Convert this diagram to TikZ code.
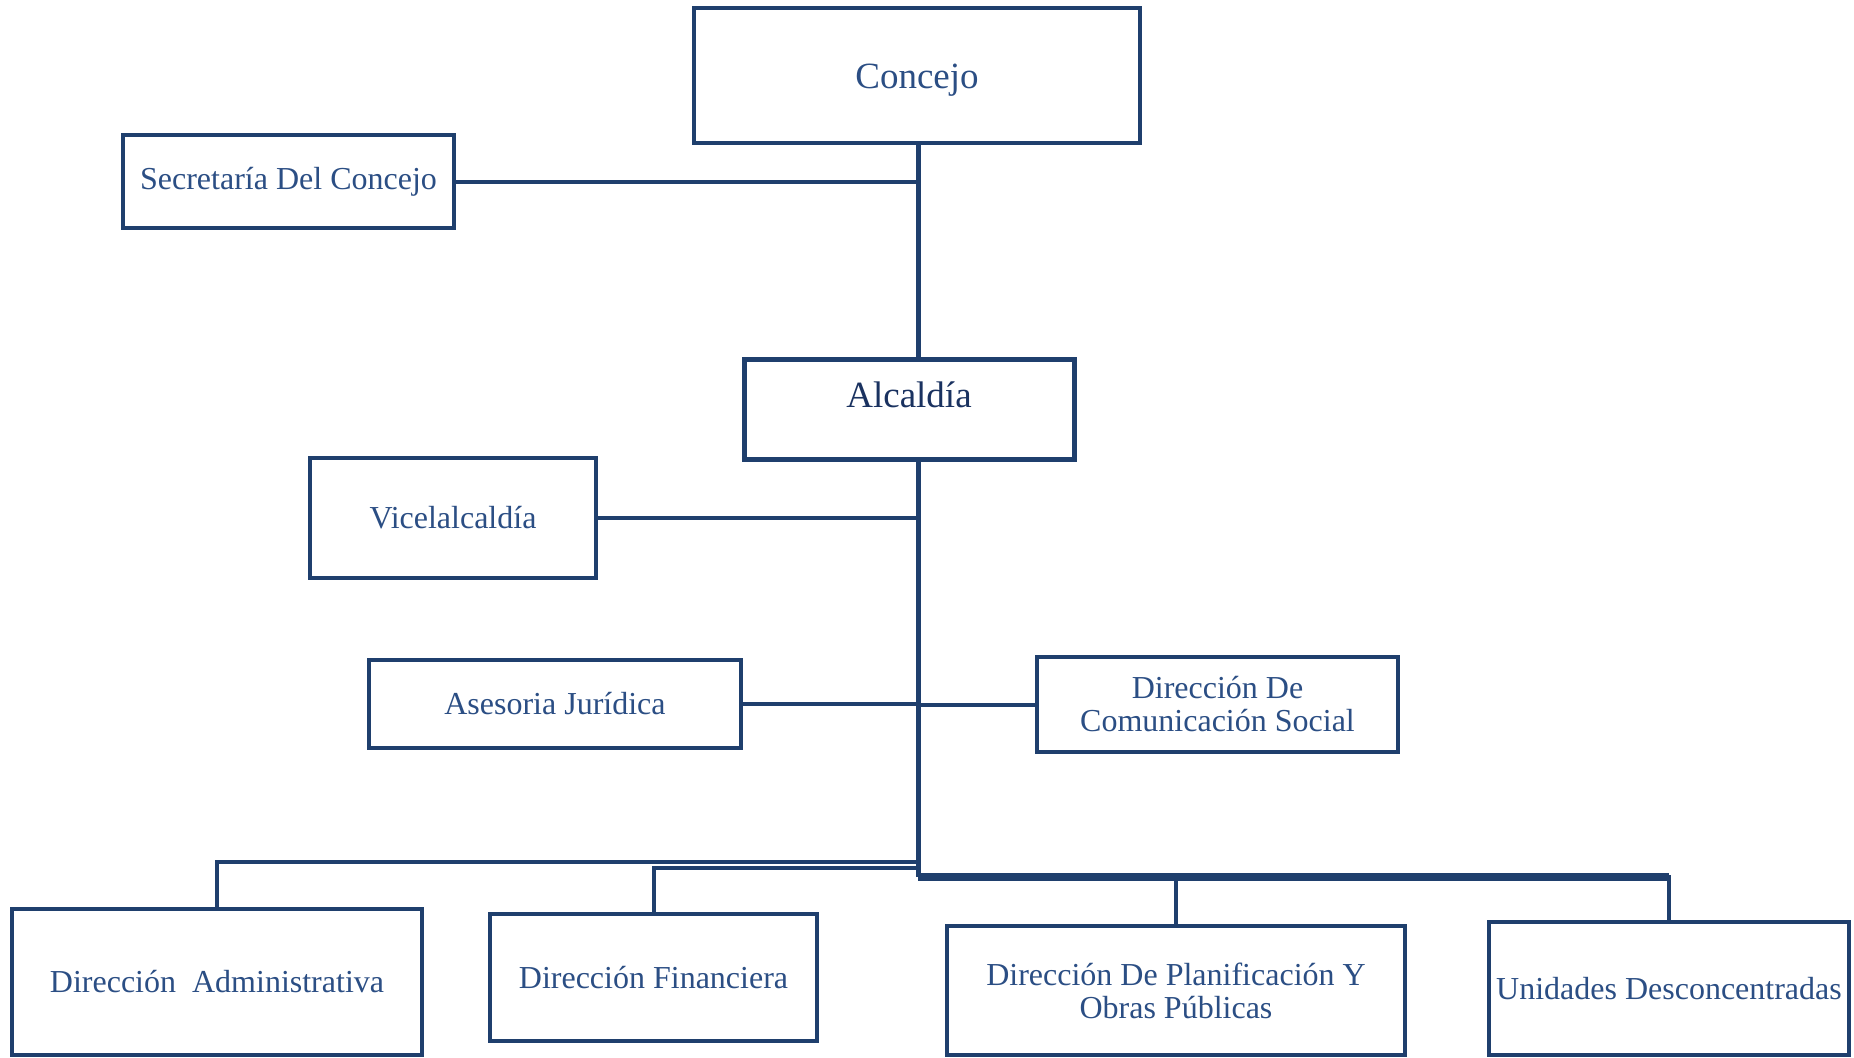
\documentclass[tikz,border=0pt]{standalone}
\usepackage{fontspec}
\setmainfont{Liberation Serif}
\usetikzlibrary{calc}
\definecolor{bordc}{HTML}{1F3F6D}
\definecolor{txtc}{HTML}{2B4E84}
\definecolor{darktxt}{HTML}{1A3260}
\begin{document}
\begin{tikzpicture}[x=0.5pt,y=-0.5pt,
  orgbox/.style={draw=bordc, line width=2pt, fill=white, rectangle, inner sep=0pt,
    align=center, text=txtc, font=\fontsize{16}{16.5}\selectfont},
  bigbox/.style={orgbox, font=\fontsize{18.5}{20}\selectfont},
  conn/.style={draw=bordc, line width=2pt},
  trunkline/.style={draw=bordc, line width=2.5pt},
  busline/.style={draw=bordc, line width=4pt}]
\useasboundingbox (0,0) rectangle (1854,1057);
% boxes
\node[bigbox, minimum width=223pt, minimum height=67.5pt] (concejo) at (917,75.5) {\raisebox{-2.5pt}[\height][\depth]{Concejo}};
\node[bigbox, line width=2.5pt, text=darktxt, minimum width=165pt, minimum height=50pt] (alcaldia) at (909,409) {\raisebox{7pt}[\height][\depth]{Alcaldía}};
\node[orgbox, minimum width=165.5pt, minimum height=46.5pt] (secre) at (288.5,181.5) {Secretaría Del Concejo};
\node[orgbox, minimum width=143pt, minimum height=60pt] (vice) at (453,518) {Vicelalcaldía};
\node[orgbox, minimum width=186pt, minimum height=44pt] (asesor) at (555,704) {Asesoria Jurídica};
\node[orgbox, minimum width=180.5pt, minimum height=47.5pt] (comunic) at (1217.5,704.5) {Dirección De\\Comunicación Social};
\node[orgbox, minimum width=205pt, minimum height=73pt] (admin) at (217,982) {Dirección\ \ Administrativa};
\node[orgbox, minimum width=163.5pt, minimum height=63.5pt] (financ) at (653.5,977.5) {Dirección Financiera};
\node[orgbox, minimum width=229pt, minimum height=64.5pt] (planif) at (1176,990.5) {Dirección De Planificación Y\\Obras Públicas};
\node[orgbox, minimum width=180pt, minimum height=66.5pt] (unidades) at (1669,988.5) {Unidades Desconcentradas};
% junction coordinates
\coordinate (jA) at (918,862);
\coordinate (jF) at (918,868);
\coordinate (jB) at (918,877);
% connectors
\draw[trunkline] (concejo.south -| jA) -- (alcaldia.north -| jA);
\draw[trunkline] (alcaldia.south -| jA) -- (jB);
\draw[conn] (secre.east) -- (secre.east -| jA);
\draw[conn] (vice.east) -- (vice.east -| jA);
\draw[conn] (asesor.east) -- (asesor.east -| jA);
\draw[conn] (comunic.west) -- (comunic.west -| jA);
\draw[conn] (jA) -| (admin.north);
\draw[conn] (jF) -| (financ.north);
\draw[conn] (jB) -| (planif.north);
\draw[conn] (jB) -| (unidades.north);
\draw[busline] (jB) -- (unidades.north |- jB);
\end{tikzpicture}
\end{document}
